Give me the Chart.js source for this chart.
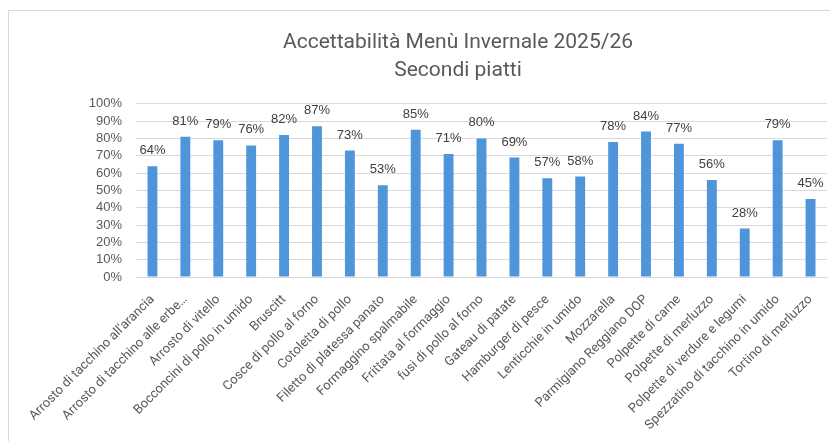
<!DOCTYPE html>
<html>
<head>
<meta charset="utf-8">
<script src="https://cdn.jsdelivr.net/npm/chart.js@4"></script>
<style>
  html, body { margin: 0; padding: 0; background: #fff; overflow: hidden; }
  #box {
    position: absolute; left: 8px; top: 10px;
    width: 900px; height: 440px;
    border-top: 1px solid #d9d9d9; border-left: 1px solid #d9d9d9;
  }
</style>
</head>
<body>
<div id="box"><canvas id="menuChart" width="900" height="440"></canvas></div>
<script>
// piatti (categorie)
const piatti = [
  'Arrosto di tacchino all\'arancia',
  'Arrosto di tacchino alle erbe…',
  'Arrosto di vitello',
  'Bocconcini di pollo in umido',
  'Bruscitt',
  'Cosce di pollo al forno',
  'Cotoletta di pollo',
  'Filetto di platessa panato',
  'Formaggino spalmabile',
  'Frittata al formaggio',
  'fusi di pollo al forno',
  'Gateau di patate',
  'Hamburger di pesce',
  'Lenticchie in umido',
  'Mozzarella',
  'Parmigiano Reggiano DOP',
  'Polpette di carne',
  'Polpette di merluzzo',
  'Polpette di verdure e legumi',
  'Spezzatino di tacchino in umido',
  'Tortino di merluzzo'
];
// gradimento in %
const gradimento = [64, 81, 79, 76, 82, 87, 73, 53, 85, 71, 80, 69, 57, 58, 78, 84, 77, 56, 28, 79, 45];
const titolo = ['Accettabilità Menù Invernale 2025/26', 'Secondi piatti'];

// etichette sopra le barre
const etichette = {
  id: 'etichette',
  afterDatasetsDraw(chart) {
    const c = chart.ctx;
    const meta = chart.getDatasetMeta(0);
    c.save();
    c.font = '13px "Liberation Sans", Arial, sans-serif';
    c.fillStyle = '#404040';
    c.textAlign = 'center';
    c.textBaseline = 'alphabetic';
    meta.data.forEach((bar, i) => {
      c.fillText(gradimento[i] + '%', bar.x, bar.y - 12);
    });
    c.restore();
  }
};

let ctx = document.getElementById('menuChart').getContext('2d');
let menuChart = new Chart(ctx, {
  type: 'bar',
  data: {
    labels: piatti,
    datasets: [{
      label: 'Accettabilità',
      data: gradimento,
      backgroundColor: '#4e95d9',
      borderWidth: 0,
      barPercentage: 0.3,
      categoryPercentage: 1
    }]
  },
  options: {
    responsive: false,
    animation: false,
    layout: { padding: { left: 80, right: 82, top: 0, bottom: 4 } },
    plugins: {
      legend: { display: false },
      tooltip: { enabled: false },
      title: {
        display: true,
        text: titolo,
        color: '#595959',
        font: { family: 'Roboto', size: 21, weight: 'normal', lineHeight: 1.33 },
        padding: { top: 18, bottom: 19 }
      }
    },
    scales: {
      x: {
        grid: { display: false, drawTicks: false },
        border: { color: '#d9d9d9' },
        afterFit: s => { s.paddingLeft = 0; s.paddingRight = 0; s.height = 170; },
        ticks: {
          autoSkip: false,
          minRotation: 45,
          maxRotation: 45,
          padding: 15,
          color: '#595959',
          font: { family: 'Roboto', size: 13 }
        }
      },
      y: {
        min: 0,
        max: 100,
        grid: { color: '#d9d9d9', drawTicks: false },
        border: { display: false },
        afterFit: s => { s.width = 47; s.paddingTop = 0; s.paddingBottom = 0; },
        ticks: {
          stepSize: 10,
          autoSkip: false,
          padding: 14,
          color: '#595959',
          font: { family: '"Liberation Sans", Arial', size: 13, lineHeight: 1 },
          callback: v => v + '%'
        }
      }
    }
  },
  plugins: [etichette]
});
</script>
</body>
</html>
